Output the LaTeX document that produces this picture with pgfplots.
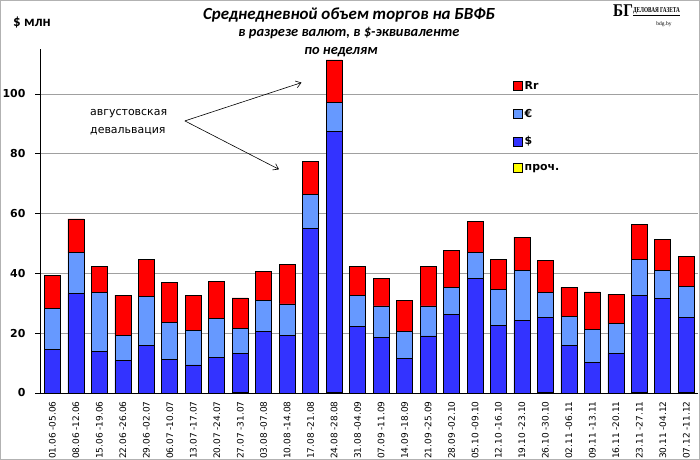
\documentclass[border=0pt]{standalone}
\usepackage{pgfplots}
\pgfplotsset{compat=1.18}
\usepackage{pgfplotstable}
\usepackage{fontspec}
\setmainfont{DejaVu Sans}
\newfontfamily\carlito{Carlito}
\newfontfamily\lserif{Liberation Serif}
\usetikzlibrary{arrows.meta}
\definecolor{cRr}{HTML}{FF0000}
\definecolor{cEur}{HTML}{6699FF}
\definecolor{cUsd}{HTML}{3333FF}
\definecolor{cOth}{HTML}{FFFF00}
\definecolor{gridc}{HTML}{A0A0A0}

% x, other, usd, eur, rr  (million $ per day)
\pgfplotstableread{
x oth usd eur rr
0  0.0 14.7 13.6 10.9
1  0.0 33.3 13.6 11.3
2  0.0 14.0 19.7 8.5
3  0.0 10.8 8.5 13.4
4  0.0 15.9 16.3 12.5
5  0.0 11.3 12.2 13.4
6  0.0 9.4 11.4 11.9
7  0.0 12.0 12.9 12.4
8  0.3 13.0 8.4 10.1
9  0.0 20.5 10.5 9.8
10 0.0 19.3 10.5 13.3
11 0.0 55.1 11.2 11.1
12 0.3 87.2 9.6 14.3
13 0.0 22.2 10.3 9.7
14 0.0 18.6 10.5 9.3
15 0.0 11.6 8.9 10.6
16 0.0 19.1 10.0 13.1
17 0.0 26.4 8.8 12.6
18 0.0 38.4 8.5 10.6
19 0.0 22.5 12.0 10.2
20 0.0 24.4 16.7 11.0
21 0.3 25.0 8.4 10.5
22 0.0 15.9 9.6 9.8
23 0.0 10.1 11.2 12.5
24 0.0 13.3 9.9 9.8
25 0.3 32.4 11.9 11.8
26 0.0 31.5 9.6 10.2
27 0.3 24.9 10.4 10.2
}\datatable

\begin{document}
\begin{tikzpicture}[x=1bp,y=1bp]
\useasboundingbox (0,0) rectangle (700,460);
\draw[gray!60, line width=1bp] (0.5,0.5) rectangle (699.5,459.5);
\pgfplotsset{mylegend/.style={legend image code/.code={\draw[##1,draw=black,line width=0.7bp] (0bp,-4.5bp) rectangle (9bp,4.5bp);}}}
\begin{axis}[
  at={(40bp,67bp)}, anchor=south west, scale only axis,
  width=658bp, height=343.85bp,
  xmin=-0.53, xmax=27.5, ymin=0, ymax=115,
  ybar stacked, bar width=16bp,
  axis x line=bottom, axis y line=left,
  axis line style={black, line width=0.9bp, -},
  ytick={0,20,...,100},
  ymajorgrids, grid style={gridc, line width=0.9bp},
  xtick={0,...,27},
  xticklabels={01.06 -05.06,08.06 -12.06,15.06 -19.06,22.06 -26.06,29.06 -02.07,06.07 -10.07,13.07 -17.07,20.07 -24.07,27.07 -31.07,03.08 -07.08,10.08 -14.08,17.08 -21.08,24.08 -28.08,31.08 -04.09,07.09 -11.09,14.09 -18.09,21.09 -25.09,28.09 -02.10,05.10 -09.10,12.10 -16.10,19.10 -23.10,26.10 -30.10,02.11 -06.11,09.11 -13.11,16.11 -20.11,23.11 -27.11,30.11 -04.12,07.12 -11.12},
  x tick label style={rotate=90, anchor=east, font=\fontsize{9}{10}\selectfont},
  x tick style={draw=none},
  y tick style={black, line width=0.9bp},
  tick align=outside, major tick length=5bp,
  yticklabel style={font=\bfseries\fontsize{11}{12}\selectfont, xshift=-6bp},
  /pgf/number format/assume math mode=true,
  legend style={draw=none, fill=none, at={(0.714,0.918)}, anchor=north west,
    font=\bfseries\fontsize{11}{12}\selectfont, row sep=14bp, cells={anchor=west}},
  reverse legend,
  clip=false,
]
\addplot[fill=cOth, draw=black, line width=0.7bp, mylegend] table[x=x,y=oth]{\datatable};
\addplot[fill=cUsd, draw=black, line width=0.7bp, mylegend] table[x=x,y=usd]{\datatable};
\addplot[fill=cEur, draw=black, line width=0.7bp, mylegend] table[x=x,y=eur]{\datatable};
\addplot[fill=cRr, draw=black, line width=0.7bp, mylegend] table[x=x,y=rr]{\datatable};
\legend{проч.,\$,€,Rr}
\node[anchor=west, align=left, font=\fontsize{11}{18}\selectfont, inner sep=0pt] at (axis cs:1.6,90.6) {августовская\\девальвация};
\draw[black, line width=0.6bp, -{Straight Barb[length=5bp,width=7bp]}] (axis cs:5.64,91.0) -- (axis cs:10.61,103.8);
\draw[black, line width=0.6bp, -{Straight Barb[length=5bp,width=7bp]}] (axis cs:5.64,91.0) -- (axis cs:9.65,74.8);
\end{axis}
\node[font=\carlito\bfseries\itshape\fontsize{17}{20}\selectfont] at (349,445) {Среднедневной объем торгов на БВФБ};
\node[font=\carlito\bfseries\itshape\fontsize{14.5}{16}\selectfont] at (349,427) {в разрезе валют, в \$-эквиваленте};
\node[font=\carlito\bfseries\itshape\fontsize{14.5}{16}\selectfont] at (341,408) {по неделям};
\node[anchor=west, font=\carlito\bfseries\fontsize{15}{16}\selectfont, inner sep=0pt] at (13,437) {\$ млн};
\node[anchor=west, font=\lserif\bfseries\fontsize{18}{18}\selectfont, inner sep=0pt, xscale=0.85] at (613,449) {БГ};
\node[anchor=west, font=\lserif\bfseries\fontsize{7.5}{7}\selectfont, inner sep=0pt, xscale=0.7] at (633,448) {\underline{ДЕЛОВАЯ ГАЗЕТА}};
\node[font=\lserif\fontsize{5.5}{6}\selectfont, inner sep=0pt] at (664,436) {bdg.by};
\end{tikzpicture}
\end{document}
